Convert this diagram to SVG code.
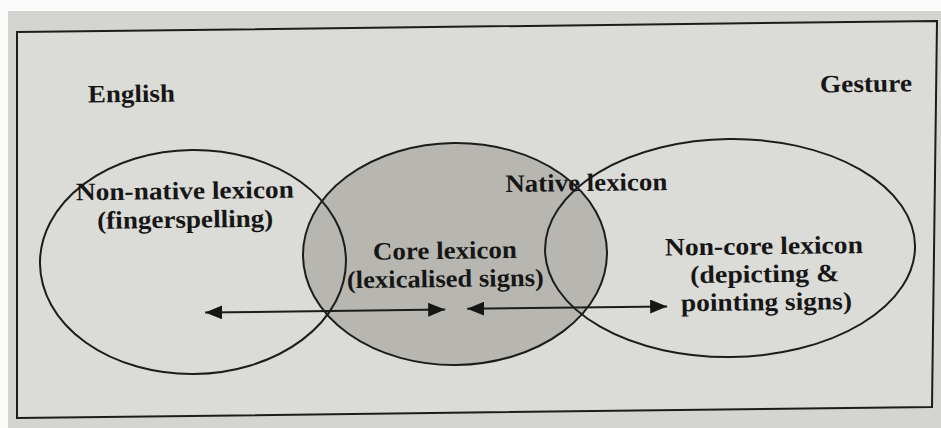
<svg xmlns="http://www.w3.org/2000/svg" width="941" height="428" viewBox="0 0 941 428">
  <style>
    .lbl { font-family: "Liberation Serif", "Times New Roman", serif; font-weight: bold; font-size: 25px; fill: #161616; text-anchor: middle; }
    .ell { stroke: #1c1c1c; stroke-width: 2; }
    .arr { stroke: #1c1c1c; stroke-width: 2; fill: none; }
  </style>
  <defs>
    <marker id="head" markerUnits="userSpaceOnUse" markerWidth="18" markerHeight="14" refX="17" refY="7" orient="auto-start-reverse">
      <path d="M0,0 L17,7 L0,14 Z" fill="#161616"/>
    </marker>
  </defs>
  <!-- page -->
  <rect x="0" y="0" width="941" height="428" fill="#fbfbfb"/>
  <rect x="8" y="11" width="933" height="417" fill="#d4d4d0"/>
  <!-- frame -->
  <polygon points="17,32 937,21 932,407 17,418" fill="#dbdbd7" stroke="#1c1c1c" stroke-width="2"/>
  <g transform="rotate(-0.7 470 214)">
    <g id="core-lexicon">
      <ellipse class="ell" cx="454.5" cy="253.8" rx="152" ry="111" fill="#b8b6b0"/>
      <text class="lbl" x="444.5" y="258.5" textLength="144" lengthAdjust="spacingAndGlyphs">Core lexicon</text>
      <text class="lbl" x="444.6" y="286.7" textLength="197" lengthAdjust="spacingAndGlyphs">(lexicalised signs)</text>
    </g>
    <g id="non-native-lexicon">
      <ellipse class="ell" cx="192.4" cy="258.6" rx="153" ry="112" fill="none"/>
      <text class="lbl" x="185.2" y="195.5" textLength="218" lengthAdjust="spacingAndGlyphs">Non-native lexicon</text>
      <text class="lbl" x="185.2" y="224.2" textLength="176" lengthAdjust="spacingAndGlyphs">(fingerspelling)</text>
    </g>
    <g id="non-core-lexicon">
      <ellipse class="ell" cx="729.6" cy="251.2" rx="185" ry="109" fill="none"/>
      <text class="lbl" x="763.5" y="257.8" textLength="198" lengthAdjust="spacingAndGlyphs">Non-core lexicon</text>
      <text class="lbl" x="764" y="285.8" textLength="149" lengthAdjust="spacingAndGlyphs">(depicting &amp;</text>
      <text class="lbl" x="765.3" y="313.8" textLength="171" lengthAdjust="spacingAndGlyphs">pointing signs)</text>
    </g>
    <g id="english">
      <text class="lbl" x="132.9" y="97.9" textLength="87" lengthAdjust="spacingAndGlyphs">English</text>
    </g>
    <g id="gesture">
      <text class="lbl" x="867.5" y="96.8" textLength="92" lengthAdjust="spacingAndGlyphs">Gesture</text>
    </g>
    <g id="native-lexicon">
      <text class="lbl" x="586.7" y="192.4" textLength="162" lengthAdjust="spacingAndGlyphs">Native lexicon</text>
    </g>
    <g id="connectors">
      <line class="arr" x1="204" y1="309.3" x2="444" y2="309.3" marker-start="url(#head)" marker-end="url(#head)"/>
      <line class="arr" x1="466" y1="308.8" x2="666" y2="308.8" marker-start="url(#head)" marker-end="url(#head)"/>
    </g>
  </g>
</svg>
